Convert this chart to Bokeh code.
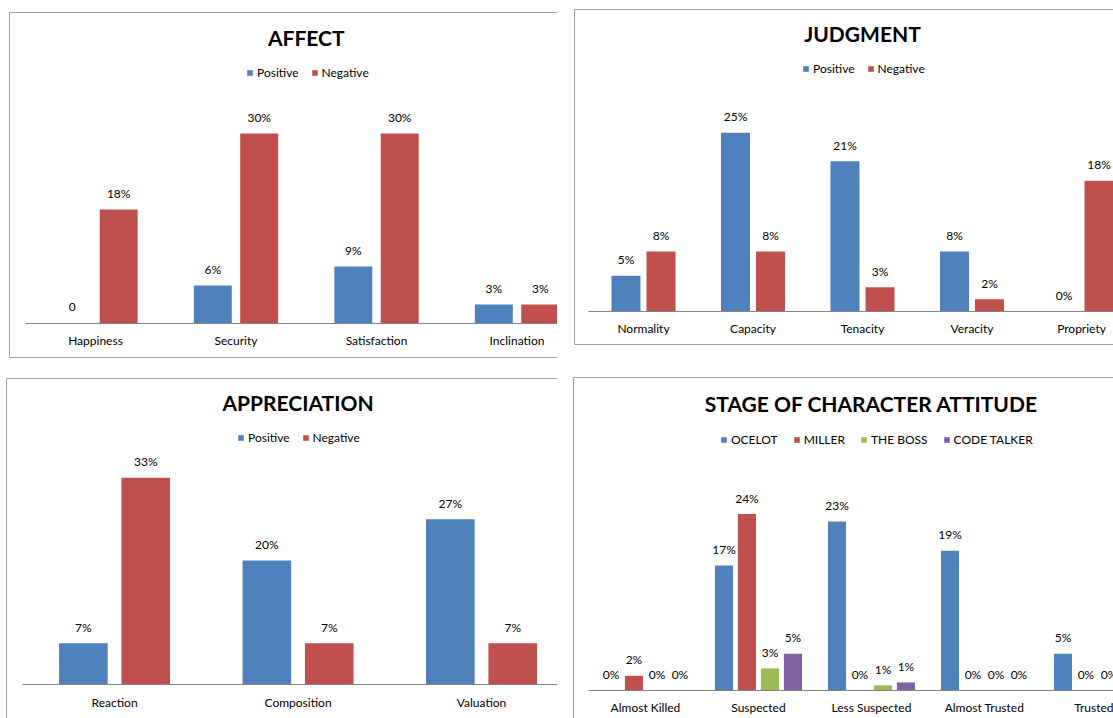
import numpy as np
from bokeh.plotting import figure
from bokeh.models import (LinearAxis, FixedTicker, Legend, LegendItem, Label,
                          Range1d, Spacer)
from bokeh.layouts import row, column
from bokeh.core.properties import value
from bokeh.embed import file_html
from bokeh.resources import INLINE

# ---------------- data ----------------
affect_categories = ["Happiness", "Security", "Satisfaction", "Inclination"]
affect_positive = [0, 6, 9, 3]
affect_negative = [18, 30, 30, 3]
affect_positive_labels = ["0", "6%", "9%", "3%"]

judgment_categories = ["Normality", "Capacity", "Tenacity", "Veracity", "Propriety"]
judgment_positive = [5.0, 25.0, 21.0, 8.4, 0.0]
judgment_negative = [8.4, 8.4, 3.4, 1.7, 18.3]

appreciation_categories = ["Reaction", "Composition", "Valuation"]
appreciation_positive = [6.67, 20.0, 26.67]
appreciation_negative = [33.33, 6.67, 6.67]

stage_categories = ["Almost Killed", "Suspected", "Less Suspected", "Almost Trusted", "Trusted"]
stage_ocelot = [0, 17, 23, 19, 5]
stage_miller = [2, 24, 0, 0, 0]
stage_boss = [0, 3, 0.7, 0, 0]
stage_code = [0, 5, 1.1, 0, 0]

two_series = ["Positive", "Negative"]
four_series = ["OCELOT", "MILLER", "THE BOSS", "CODE TALKER"]

# ---------------- style ----------------
BLUE, RED, GREEN, PURPLE = "#4F81BD", "#C0504D", "#9BBB59", "#8064A2"
BORDER = "#A0A0A0"
AXIS = "#868686"
FONT = "Lato"


def pct(v):
    return f"{int(round(v))}%"


def border_axis(p, side):
    ax = LinearAxis(ticker=FixedTicker(ticks=[]), major_tick_out=0, major_tick_in=0,
                    minor_tick_out=0, minor_tick_in=0, major_label_standoff=0,
                    axis_line_color=BORDER, axis_line_width=1)
    p.add_layout(ax, side)


def make_panel(title, cats, series, names, colors, labels, width, height, xr, yr,
               bar_w, offsets, title_y, legend_loc, legend_spacing, bottom_border):
    p = figure(width=width, height=height, x_range=Range1d(*xr), y_range=Range1d(*yr),
               x_axis_type=None, y_axis_type=None, toolbar_location=None,
               output_backend="svg", min_border_left=1, min_border_top=1,
               min_border_right=0, min_border_bottom=1 if bottom_border else 0,
               outline_line_color=None, background_fill_color="white",
               border_fill_color="white")
    n = len(cats)
    idx = np.arange(n)
    items = []
    for vals, name, col, labs, off in zip(series, names, colors, labels, offsets):
        xs = idx + off
        r = p.vbar(x=xs, top=vals, bottom=0, width=bar_w, fill_color=col, line_color=None)
        items.append(LegendItem(label=name, renderers=[r]))
        p.text(x=xs, y=vals, text=labs, text_align="center", text_baseline="middle",
               y_offset=-16, text_font=value(FONT), text_font_size="12px",
               text_color="black")
    cat_axis = LinearAxis(fixed_location=0, ticker=FixedTicker(ticks=list(range(n))),
                          major_label_overrides={i: c for i, c in enumerate(cats)},
                          bounds=(-0.5, n - 0.5), axis_line_color=AXIS,
                          major_tick_line_color=None, minor_tick_line_color=None,
                          major_tick_out=0, major_tick_in=0, minor_tick_out=0,
                          minor_tick_in=0, major_label_standoff=10,
                          major_label_text_font=FONT, major_label_text_font_size="12px",
                          major_label_text_color="black")
    p.add_layout(cat_axis, "below")
    border_axis(p, "left")
    border_axis(p, "above")
    if bottom_border:
        border_axis(p, "below")
    p.add_layout(Label(x=(n - 1) / 2, y=title_y, text=title, text_align="center",
                       text_baseline="middle", text_font=FONT, text_font_style="bold",
                       text_font_size="21px", text_color="black"))
    leg = Legend(items=items, orientation="horizontal", location=legend_loc,
                 glyph_width=7, glyph_height=7, label_standoff=4,
                 spacing=legend_spacing, padding=0, margin=0, border_line_color=None,
                 background_fill_alpha=0, label_text_font=FONT,
                 label_text_font_size="12px", label_height=7, label_text_color="black")
    p.add_layout(leg)
    return p


p1 = make_panel("AFFECT", affect_categories, [affect_positive, affect_negative], two_series,
                [BLUE, RED], [affect_positive_labels, [pct(v) for v in affect_negative]],
                549, 347, (-0.612, 3.288), (-5.37, 49.1), 0.27, [-0.165, 0.165],
                45.16, (237, 277), 12, True)

p2 = make_panel("JUDGMENT", judgment_categories, [judgment_positive, judgment_negative],
                two_series, [BLUE, RED],
                [[pct(v) for v in judgment_positive], [pct(v) for v in judgment_negative]],
                540, 337, (-0.630, 4.292), (-4.62, 42.24), 0.265, [-0.16, 0.16],
                38.9, (228, 268), 12, True)

p3 = make_panel("APPRECIATION", appreciation_categories,
                [appreciation_positive, appreciation_negative], two_series, [BLUE, RED],
                [[pct(v) for v in appreciation_positive], [pct(v) for v in appreciation_negative]],
                552, 341, (-0.589, 2.414), (-5.48, 49.35), 0.265, [-0.17, 0.17],
                45.5, (231, 273), 12, False)

p4 = make_panel("STAGE OF CHARACTER ATTITUDE", stage_categories,
                [stage_ocelot, stage_miller, stage_boss, stage_code], four_series,
                [BLUE, RED, GREEN, PURPLE],
                [[pct(v) for v in s] for s in [stage_ocelot, stage_miller, stage_boss, stage_code]],
                541, 342, (-0.637, 4.142), (-3.81, 42.59), 0.16,
                [-0.305, -0.102, 0.102, 0.305],
                39.05, (147, 271), 15, False)

left = column(Spacer(width=557, height=11), row(Spacer(width=8, height=347), p1),
              Spacer(width=557, height=19), row(Spacer(width=5, height=341), p3))
right = column(Spacer(width=556, height=8), row(Spacer(width=16, height=337), p2),
               Spacer(width=556, height=31), row(Spacer(width=15, height=342), p4))
layout = row(left, right)

open("out.html", "w").write(file_html(layout, INLINE))
